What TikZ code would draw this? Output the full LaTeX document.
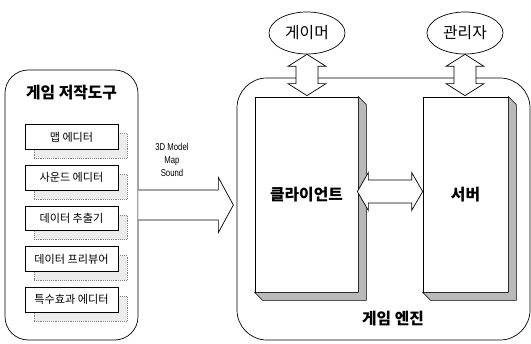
\documentclass[tikz,border=0pt]{standalone}
\usepackage{fontspec}
\setmainfont{Liberation Sans}
\newfontfamily\kr{Noto Sans CJK KR}
\newfontfamily\narrowsf{Liberation Sans}[FakeStretch=0.78]
\usetikzlibrary{positioning,calc,shapes.geometric,shadows}

\begin{document}
\begin{tikzpicture}[x=0.03cm, y=-0.03cm,
    panel/.style={draw, line width=0.6pt, rounded corners=0.7cm},
    title/.style={font=\kr\bfseries\fontsize{13.5}{16}\selectfont},
    tool/.style={draw, fill=white, line width=0.6pt, minimum width=2.79cm, minimum height=0.74cm, inner sep=0pt, font=\kr\fontsize{9.5}{11}\selectfont,
        drop shadow={shadow xshift=0.27cm, shadow yshift=-0.27cm, fill=gray!15, draw=gray, densely dotted, opacity=1}},
    user/.style={ellipse, draw, line width=0.6pt, minimum width=2.28cm, minimum height=1.26cm, inner sep=0pt, font=\kr\fontsize{13.5}{16}\selectfont},
    tier/.style={draw, fill=white, line width=0.6pt, minimum height=5.85cm, inner sep=0pt, font=\kr\bfseries\fontsize{13.5}{16}\selectfont},
    side/.style={draw, line width=0.4pt, fill=gray!55},
    blockarrow/.style={draw, fill=white, line width=0.6pt, line join=miter},
]
\useasboundingbox (0,0) rectangle (531,344);

\node[panel, minimum width=3.99cm, minimum height=8.1cm] (tools) at (71.5,205) {};
\node[title] (toolstitle) at ($(tools.north)+(0,23)$) {게임 저작도구};
\node[tool] (mapedit) at (71.5,137) {맵 에디터};
\node[tool, below=0.46cm of mapedit] (sndedit) {사운드 에디터};
\node[tool, below=0.46cm of sndedit] (extract) {데이터 추출기};
\node[tool, below=0.46cm of extract] (preview) {데이터 프리뷰어};
\node[tool, below=0.46cm of preview] (fxedit) {특수효과 에디터};

\node[panel, minimum width=8.79cm, minimum height=7.86cm, rounded corners=0.9cm] (engine) at (383.5,209) {};
\node[title] (enginetitle) at ($(engine.south)+(9.5,-22)$) {게임 엔진};

\filldraw[blockarrow] ($(tools.east)+(0,-15)$) -- ++(80,0) -- ++(0,-12.5) -- ++(15,27.5) -- ++(-15,27.5) -- ++(0,-12.5) -- ($(tools.east)+(0,15)$);
\node[font=\narrowsf\fontsize{8.5}{11}\selectfont, align=center] (cargo) at (172,160) {3D Model\\Map\\Sound};

\node[tier, minimum width=3.09cm] (client) at (306.5,194.5) {클라이언트};
\node[tier, minimum width=2.55cm] (server) at (465.5,194.5) {서버};
\foreach \b in {client,server}
  \draw[side] (\b.north east) -- ++(8,8) -- ($(\b.south east)+(8,8)$) -- ($(\b.south west)+(8,8)$) -- (\b.south west) -- (\b.south east) -- cycle;

\node[user] (gamer) at (307,33) {게이머};
\node[user] (admin) at (465,33) {관리자};

\coordinate (ga) at (gamer.south);
\coordinate (gb) at ($(gamer.south |- client.north)+(0,-1)$);
\draw[blockarrow] (ga) -- ++(19,12) -- ++(-8,0) -- ($(gb)+(11,-12)$) -- ++(8,0) -- (gb) -- ++(-19,-12) -- ++(8,0) -- ($(ga)+(-11,12)$) -- ++(-8,0) -- cycle;
\coordinate (aa) at (admin.south);
\coordinate (ab) at ($(admin.south |- server.north)+(0,-1)$);
\draw[blockarrow] (aa) -- ++(19,12) -- ++(-8,0) -- ($(ab)+(11,-12)$) -- ++(8,0) -- (ab) -- ++(-19,-12) -- ++(8,0) -- ($(aa)+(-11,12)$) -- ++(-8,0) -- cycle;
\coordinate (na) at ($(client.east)+(-1,-3)$);
\coordinate (nb) at ($(server.west)+(0,-3)$);
\draw[blockarrow] (na) -- ++(11,-19) -- ++(0,7.5) -- ($(nb)+(-11,-11.5)$) -- ++(0,-7.5) -- (nb) -- ++(-11,19) -- ++(0,-7.5) -- ($(na)+(11,11.5)$) -- ++(0,7.5) -- cycle;
\end{tikzpicture}
\end{document}
